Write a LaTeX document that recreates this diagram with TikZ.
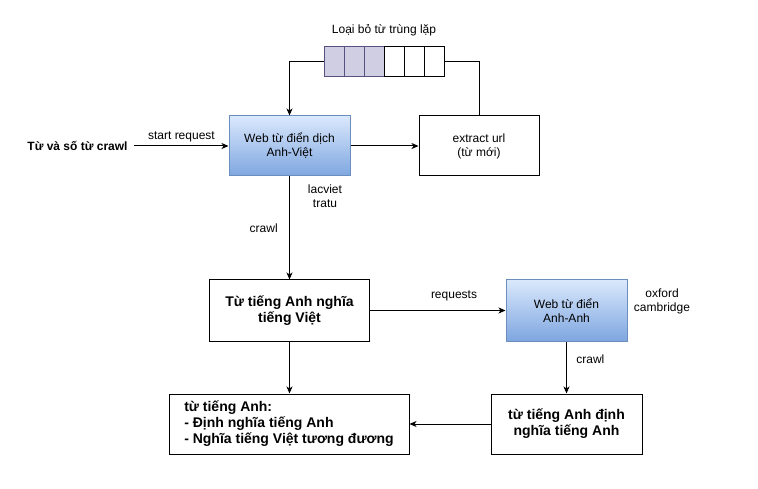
\documentclass[tikz,border=0pt]{standalone}
\usepackage{fontspec}
\setmainfont{Liberation Sans}
\usetikzlibrary{arrows.meta}
\definecolor{webtop}{HTML}{DAE8FC}
\definecolor{webbot}{HTML}{7EA6E0}
\definecolor{webline}{HTML}{6C8EBF}
\definecolor{qfill}{HTML}{D0CEE2}
\definecolor{qline}{HTML}{56517E}
\tikzset{
  plainbox/.style={draw, line width=1pt, fill=white, align=center, inner sep=0pt},
  webbox/.style={plainbox, draw=webline, top color=webtop, bottom color=webbot},
  boldbox/.style={plainbox, font=\fontsize{14}{16}\selectfont\bfseries},
  qcell/.style={draw, line width=1pt, minimum width=20pt, minimum height=30pt, inner sep=0pt},
}
\begin{document}
\begin{tikzpicture}[x=1pt, y=-1pt, >={Stealth[length=7pt,width=6pt,inset=2pt]}, line width=1pt,
  font=\fontsize{12}{14}\selectfont]
  \useasboundingbox (0,0) rectangle (758,489);
  % queue
  \node (qlabel) at (384,30) {Loại bỏ từ trùng lặp};
  \foreach \i in {1,...,6}{
    \ifnum\i<4
      \node[qcell, draw=qline, fill=qfill] (q\i) at (314+20*\i,62) {};
    \else
      \node[qcell, fill=white] (q\i) at (314+20*\i,62) {};
    \fi
  }
  % boxes
  \node[webbox, minimum width=121pt, minimum height=60pt] (webav) at (289.5,146) {Web từ điển dịch\\Anh-Việt};
  \node[plainbox, minimum width=120pt, minimum height=60pt] (extract) at (479,146) {extract url\\(từ mới)};
  \node[font=\fontsize{12}{14}\selectfont\bfseries] (input) at (77.5,146) {Từ và số từ crawl};
  \node[align=center] (srcav) at (325,196) {lacviet\\tratu};
  \node[boldbox, minimum width=160pt, minimum height=61pt] (anhviet) at (289.5,310.5) {Từ tiếng Anh nghĩa\\tiếng Việt};
  \node[webbox, minimum width=121pt, minimum height=61pt] (webaa) at (566.5,310.5) {Web từ điển\\Anh-Anh};
  \node[align=center] (srcaa) at (662,301) {oxford\\cambridge};
  \node[boldbox, minimum width=151pt, minimum height=60pt] (aadef) at (566.5,424) {từ tiếng Anh định\\nghĩa tiếng Anh};
  \node[boldbox, align=left, minimum width=240pt, minimum height=60pt] (result) at (289,424) {từ tiếng Anh:\\- Định nghĩa tiếng Anh\\- Nghĩa tiếng Việt tương đương};
  % connectors
  \draw[->] (q1.west) -| (webav.north);
  \draw (q6.east) -| (extract.north);
  \draw[->] (input.east) ++(3,0) -- node[above] {start request} (webav.west);
  \draw[->] (webav) -- (extract);
  \draw[->] (webav) -- node[left=8pt, pos=0.5] {crawl} (anhviet);
  \draw[->] (anhviet) -- node[above=6pt, pos=0.62] {requests} (webaa);
  \draw[->] (webaa) -- node[right=6pt, pos=0.35] {crawl} (aadef);
  \draw[->] (aadef) -- (result);
  \draw[->] (anhviet) -- (anhviet |- result.north);
\end{tikzpicture}
\end{document}
